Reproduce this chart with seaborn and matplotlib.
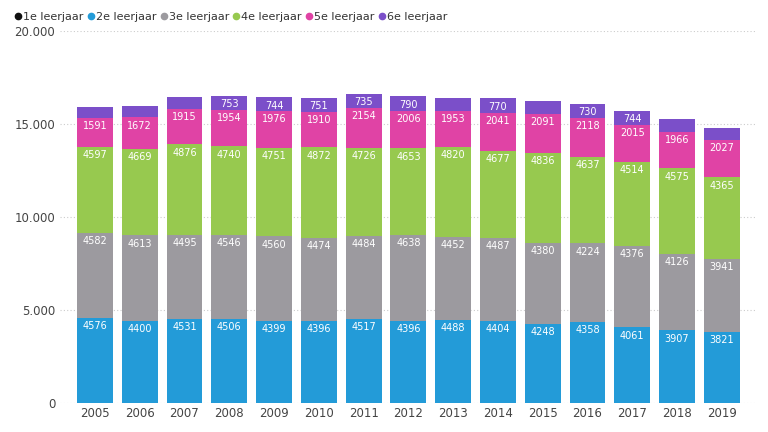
import pandas as pd
import numpy as np
import matplotlib
matplotlib.use("Agg")
import matplotlib.pyplot as plt
from matplotlib.lines import Line2D
import seaborn as sns

# data
years = [2005, 2006, 2007, 2008, 2009, 2010, 2011, 2012, 2013, 2014, 2015, 2016, 2017, 2018, 2019]
leerjaar_1 = [0, 0, 0, 0, 0, 0, 0, 0, 0, 0, 0, 0, 0, 0, 0]
leerjaar_2 = [4576, 4400, 4531, 4506, 4399, 4396, 4517, 4396, 4488, 4404, 4248, 4358, 4061, 3907, 3821]
leerjaar_3 = [4582, 4613, 4495, 4546, 4560, 4474, 4484, 4638, 4452, 4487, 4380, 4224, 4376, 4126, 3941]
leerjaar_4 = [4597, 4669, 4876, 4740, 4751, 4872, 4726, 4653, 4820, 4677, 4836, 4637, 4514, 4575, 4365]
leerjaar_5 = [1591, 1672, 1915, 1954, 1976, 1910, 2154, 2006, 1953, 2041, 2091, 2118, 2015, 1966, 2027]
leerjaar_6 = [585, 600, 660, 753, 744, 751, 735, 790, 690, 770, 665, 730, 744, 680, 650]

series_names = ["1e leerjaar", "2e leerjaar", "3e leerjaar", "4e leerjaar", "5e leerjaar", "6e leerjaar"]
series_vals = [leerjaar_1, leerjaar_2, leerjaar_3, leerjaar_4, leerjaar_5, leerjaar_6]
colors = ["#111111", "#239bd8", "#9c9a9f", "#97c94f", "#e043a5", "#7b4fc9"]

df = pd.DataFrame({"year": years})
for name, vals in zip(series_names, series_vals):
    df[name] = vals
cum = df[series_names].cumsum(axis=1)

sns.set_theme(style="white")
plt.rcParams["font.family"] = ["DejaVu Sans"]

fig = plt.figure(figsize=(7.68, 4.32), dpi=100)
ax = fig.add_axes([60 / 768, 1 - 403 / 432, 695 / 768, 372 / 432])

# draw cumulative totals from top series down so each one covers the next
for i in range(len(series_names) - 1, -1, -1):
    name = series_names[i]
    sns.barplot(x=df["year"].astype(str), y=cum[name], color=colors[i],
                width=0.8, saturation=1, ax=ax, edgecolor="none", linewidth=0)
    cont = ax.containers[-1]
    labels = [str(v) if v >= 720 else "" for v in df[name]]
    if i > 0:
        ax.bar_label(cont, labels=labels, label_type="edge", padding=-9.5,
                     color="white", fontsize=7)

ax.set_xlim(-0.78, 14.74)
ax.set_ylim(0, 20000)
ax.set_yticks([0, 5000, 10000, 15000, 20000])
ax.set_yticklabels(["0", "5.000", "10.000", "15.000", "20.000"])
ax.set_xlabel("")
ax.set_ylabel("")
ax.grid(axis="y", linestyle=(0, (1, 2)), color="#cccccc", linewidth=0.8)
ax.set_axisbelow(True)
for s in ax.spines.values():
    s.set_visible(False)
ax.tick_params(axis="both", length=0, labelsize=8.5, labelcolor="#444444")
ax.tick_params(axis="y", pad=3.5)
ax.tick_params(axis="x", pad=3)

handles = [Line2D([0], [0], marker="o", linestyle="", markersize=4.5,
                  markerfacecolor=c, markeredgecolor=c) for c in colors]
fig.legend(handles, series_names, loc="upper left", bbox_to_anchor=(0.006, 0.995),
           ncol=6, frameon=False, fontsize=8, handletextpad=0.1,
           columnspacing=0.3, handlelength=0.7, labelcolor="#333333")

fig.savefig("out.png", dpi=100)
